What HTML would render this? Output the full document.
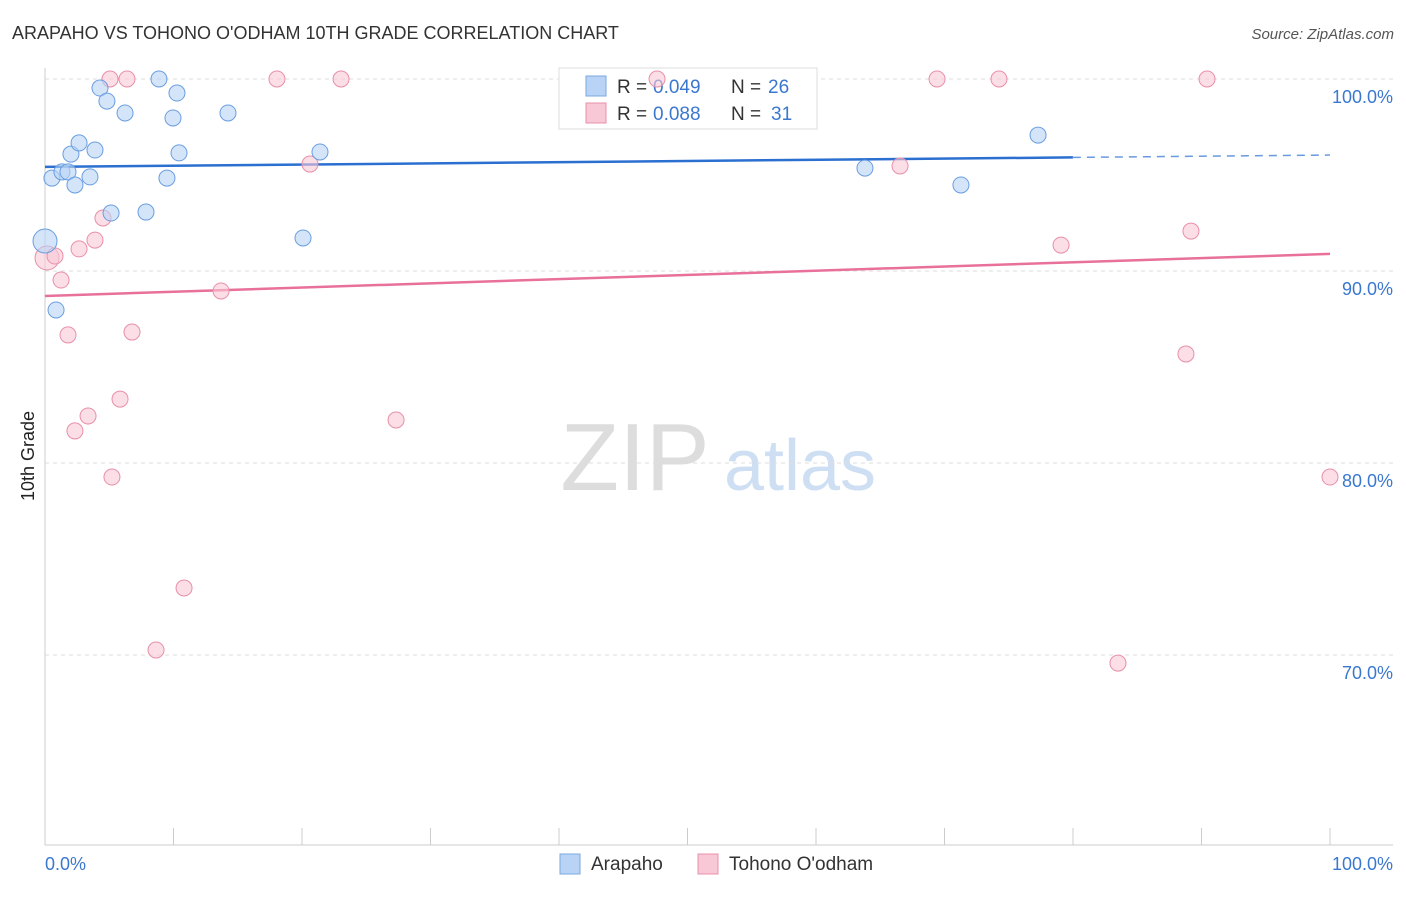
<!DOCTYPE html>
<html><head><meta charset="utf-8"><style>
body{margin:0;background:#fff;font-family:"Liberation Sans",sans-serif;}
svg text{font-family:"Liberation Sans",sans-serif;}
</style></head><body>
<svg id="chart" width="1406" height="892" xmlns="http://www.w3.org/2000/svg">
<text x="12" y="39" font-size="18" fill="#333">ARAPAHO VS TOHONO O'ODHAM 10TH GRADE CORRELATION CHART</text>
<text x="1394" y="39" font-size="15" fill="#555" text-anchor="end" font-style="italic">Source: ZipAtlas.com</text>
<text x="34" y="456" font-size="18" fill="#222" transform="rotate(-90 34 456)" text-anchor="middle">10th Grade</text>
<g>
<text x="635" y="490" font-size="96" fill="#ddd" text-anchor="middle" font-family="Liberation Serif,serif">ZIP</text>
<text x="800" y="490" font-size="72" fill="#cfdff3" text-anchor="middle">atlas</text>
</g>
<g id="grid"></g><g id="axes"></g>
<g>
<rect x="559" y="68" width="258" height="61" fill="#fff" stroke="#ddd"/>
<rect x="586" y="76" width="20" height="20" fill="#b8d3f5" stroke="#7aaae0"/>
<text x="617" y="93" font-size="19" fill="#333">R =</text>
<text x="653" y="93" font-size="19" fill="#3a78d0">0.049</text>
<text x="731" y="93" font-size="19" fill="#333">N =</text>
<text x="768" y="93" font-size="19" fill="#3a78d0">26</text>
<rect x="586" y="103" width="20" height="20" fill="#f8c8d6" stroke="#e890a8"/>
<text x="617" y="120" font-size="19" fill="#333">R =</text>
<text x="653" y="120" font-size="19" fill="#3a78d0">0.088</text>
<text x="731" y="120" font-size="19" fill="#333">N =</text>
<text x="771" y="120" font-size="19" fill="#3a78d0">31</text>
</g>
<g id="trend"></g><g id="pts"></g>
<g>
<rect x="560" y="854" width="20" height="20" fill="#b8d3f5" stroke="#7aaae0"/>
<text x="591" y="870" font-size="19" fill="#333">Arapaho</text>
<rect x="698" y="854" width="20" height="20" fill="#f8c8d6" stroke="#e890a8"/>
<text x="729" y="870" font-size="19" fill="#333">Tohono O'odham</text>
</g>
<text x="45" y="870" font-size="18" fill="#3a78d0">0.0%</text>
<text x="1393" y="870" font-size="18" fill="#3a78d0" text-anchor="end">100.0%</text>
</svg>
<script>
const yTicks=[100,90,80,70];
const yTickLabels=["100.0%","90.0%","80.0%","70.0%"];
const blueX=[0,0.54,0.86,1.32,1.79,2.02,2.33,2.65,3.5,3.89,4.28,4.82,5.14,6.23,7.86,8.87,9.49,9.96,10.27,10.43,14.24,20.08,21.4,63.81,71.28,77.28];
const blueY=[91.56,94.84,87.97,95.16,95.16,96.09,94.48,96.67,94.9,96.3,99.53,98.85,93.02,98.23,93.07,100,94.84,97.97,99.27,96.15,98.23,91.72,96.2,95.36,94.48,97.08];
const pinkX=[0.16,0.78,1.25,1.79,2.33,2.65,3.35,3.89,4.51,5.06,5.21,5.84,6.38,6.77,8.64,10.82,13.7,18.05,20.62,23.04,27.32,47.63,66.54,69.42,74.24,79.07,83.5,88.79,89.18,90.43,100];
const pinkY=[90.68,90.78,89.53,86.67,81.67,91.15,82.45,91.61,92.76,100,79.27,83.33,100,86.82,70.26,73.49,88.96,100,95.57,100,82.24,100,95.47,100,100,91.35,69.58,85.68,92.08,100,79.27];
const blueTrend=[95.42,96.04];
const pinkTrend=[88.7,90.89];
const NS="http://www.w3.org/2000/svg";
const X=v=>45+v*12.85, Y=v=>79+(100-v)*19.2;
function mk(t,a,p){const e=document.createElementNS(NS,t);for(const k in a)e.setAttribute(k,a[k]);p.appendChild(e);return e;}
const grid=document.getElementById('grid'),axes=document.getElementById('axes'),trend=document.getElementById('trend'),pts=document.getElementById('pts');
yTicks.forEach((t,i)=>{
 const l=mk('line',{x1:45,x2:1393,y1:Y(t),y2:Y(t),stroke:'#ddd','stroke-dasharray':'4,4'},grid);
 
 
 const tx=mk('text',{x:1393,y:Y(t)+24,'font-size':18,fill:'#3a78d0','text-anchor':'end'},grid);
 tx.textContent=yTickLabels[i];
 
 
});
mk('line',{x1:45,x2:45,y1:68,y2:845,stroke:'#ccc'},axes);
mk('line',{x1:45,x2:1393,y1:845,y2:845,stroke:'#ccc'},axes);
for(let i=0;i<=10;i++){const t=mk('line',{x1:X(i*10),x2:X(i*10),y1:828,y2:845,stroke:'#ccc'},axes);
 
 }
const bx2=79.99;
let l=mk('line',{x1:X(0),y1:Y(blueTrend[0]),x2:X(bx2),y2:Y(blueTrend[0]+(blueTrend[1]-blueTrend[0])*bx2/100),stroke:'#2b6fd1','stroke-width':2.5},trend);


l=mk('line',{x1:X(bx2),y1:Y(blueTrend[0]+(blueTrend[1]-blueTrend[0])*bx2/100),x2:X(100),y2:Y(blueTrend[1]),stroke:'#2b6fd1','stroke-width':1.5,'stroke-dasharray':'8,6',opacity:0.7},trend);


l=mk('line',{x1:X(0),y1:Y(pinkTrend[0]),x2:X(100),y2:Y(pinkTrend[1]),stroke:'#e8709a','stroke-width':2.5},trend);


pinkX.forEach((x,i)=>{const c=mk('circle',{cx:X(x),cy:Y(pinkY[i]),r:i==0?12:8,fill:'#f8c8d6','fill-opacity':0.6,stroke:'#e890a8','stroke-width':1},pts);
 
 });
blueX.forEach((x,i)=>{const c=mk('circle',{cx:X(x),cy:Y(blueY[i]),r:i==0?12:8,fill:'#b8d3f5','fill-opacity':0.6,stroke:'#6a9ee0','stroke-width':1},pts);
 
 });
</script>
</body></html>
